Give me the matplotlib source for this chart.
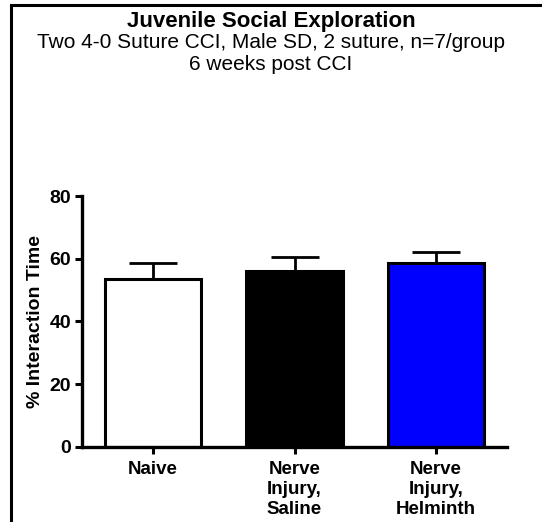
import matplotlib
matplotlib.use('Agg')
import matplotlib.pyplot as plt
from matplotlib.patches import Rectangle

plt.rcParams['font.family'] = ['Liberation Sans', 'DejaVu Sans']

groups = ['Naive', 'Nerve\nInjury,\nSaline', 'Nerve\nInjury,\nHelminth']
means = [53.5, 56.2, 58.5]
sem = [5.2, 4.4, 3.5]
colors = ['white', 'black', '#0000ff']
yticks = [0, 20, 40, 60, 80]

W, H = 542, 522
fig = plt.figure(figsize=(W / 100, H / 100), dpi=100)

# frame around the whole panel (only the left and top edges fall inside the image)
fig.patches.append(Rectangle((11 / W, -0.1), 1.2, 1 - 4.7 / H + 0.1,
                             transform=fig.transFigure, fill=False,
                             edgecolor='black', linewidth=2.2))

ax = fig.add_axes([82 / W, 1 - 446.7 / H, (507 - 82) / W, (446.7 - 196) / H])
x = range(len(groups))
ax.bar(x, means, width=0.68, color=colors, edgecolor='black', linewidth=2.2, zorder=2)
ax.errorbar(x, means, yerr=[[0] * len(sem), sem], fmt='none', ecolor='black',
            elinewidth=2.0, capsize=17, capthick=2.0, zorder=1)

ax.set_xlim(-0.5, 2.5)
ax.set_ylim(0, 80)
ax.set_yticks(yticks)
ax.set_xticks(list(x))
ax.set_xticklabels(groups, fontsize=13.5, fontweight='bold', linespacing=1.25)
ax.tick_params(axis='y', labelsize=14, width=2.2, length=5, pad=3)
ax.tick_params(axis='x', width=2.2, length=5, pad=5)
for lbl in ax.get_yticklabels():
    lbl.set_fontweight('bold')
for s in ['top', 'right']:
    ax.spines[s].set_visible(False)
for s in ['left', 'bottom']:
    ax.spines[s].set_linewidth(2.4)
ax.set_ylabel('% Interaction Time', fontsize=14, fontweight='bold', labelpad=4)

fig.text(0.5, 1 - 22 / H, 'Juvenile Social Exploration', ha='center', va='center',
         fontsize=16, fontweight='bold')
fig.text(0.5, 1 - 43 / H, 'Two 4-0 Suture CCI, Male SD, 2 suture, n=7/group',
         ha='center', va='center', fontsize=15)
fig.text(0.5, 1 - 64 / H, '6 weeks post CCI', ha='center', va='center', fontsize=15)

fig.savefig('out.png', dpi=100)
